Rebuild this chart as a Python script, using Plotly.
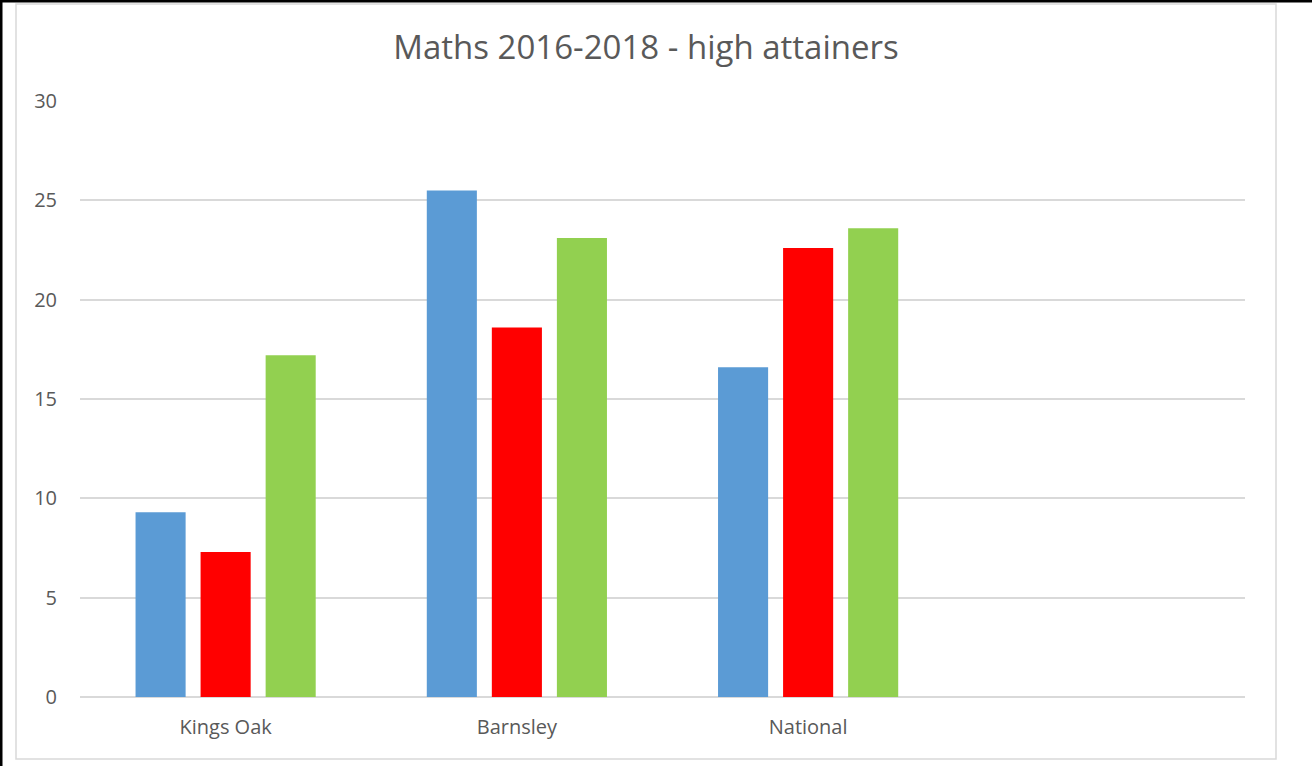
import plotly.graph_objects as go

categories = ["Kings Oak", "Barnsley", "National", " "]
series_names = ["2016", "2017", "2018"]
values_2016 = [9.3, 25.5, 16.6, None]
values_2017 = [7.3, 18.6, 22.6, None]
values_2018 = [17.2, 23.1, 23.6, None]
colors = ["#5B9BD5", "#FF0000", "#92D050"]
y_ticks = [0, 5, 10, 15, 20, 25, 30]

W, H = 1312, 766
L, R, T, B = 80, 67, 101, 69
pw, ph = W - L - R, H - T - B

def px_x(p):
    return (p - L) / pw

def px_y(p):
    return (H - B - p) / ph

fig = go.Figure()
for name, vals, c in zip(series_names, [values_2016, values_2017, values_2018], colors):
    fig.add_trace(go.Bar(x=categories, y=vals, name=name, marker=dict(color=c, line=dict(width=0))))

font = "Open Sans"
fig.update_layout(
    width=W, height=H,
    margin=dict(l=L, r=R, t=T, b=B),
    paper_bgcolor="white", plot_bgcolor="white",
    barmode="group", bargap=0.33, bargroupgap=0.23,
    showlegend=False,
    title=dict(text="Maths 2016-2018 - high attainers", x=646 / W, xanchor="center",
               y=1 - 47 / H, yanchor="middle",
               font=dict(family=font, size=33, color="#595959")),
    xaxis=dict(type="category", categoryorder="array", categoryarray=categories,
               range=[-0.5, 3.5], showgrid=False, showline=False, zeroline=False,
               ticks="", ticklabelstandoff=16,
               tickfont=dict(family=font, size=20, color="#595959")),
    yaxis=dict(range=[0, 30], tickvals=y_ticks, showgrid=True, gridcolor="#D9D9D9",
               gridwidth=2, zeroline=True, zerolinecolor="#D9D9D9", zerolinewidth=2,
               showline=False, ticks="", ticklabelstandoff=22,
               tickfont=dict(family=font, size=20, color="#595959")),
    shapes=[
        dict(type="rect", xref="paper", yref="paper",
             x0=px_x(16), x1=px_x(1276), y0=px_y(759), y1=px_y(4),
             line=dict(color="#D9D9D9", width=1.5), fillcolor="rgba(0,0,0,0)", layer="below"),
        dict(type="line", xref="paper", yref="paper",
             x0=px_x(1), x1=px_x(1), y0=px_y(0), y1=px_y(766),
             line=dict(color="black", width=3)),
        dict(type="line", xref="paper", yref="paper",
             x0=px_x(0), x1=px_x(1312), y0=px_y(1), y1=px_y(1),
             line=dict(color="black", width=3)),
    ],
)

fig.write_html("out.html", config={"displayModeBar": False},
               post_script="document.body.style.margin='0';document.body.style.overflow='hidden';")
